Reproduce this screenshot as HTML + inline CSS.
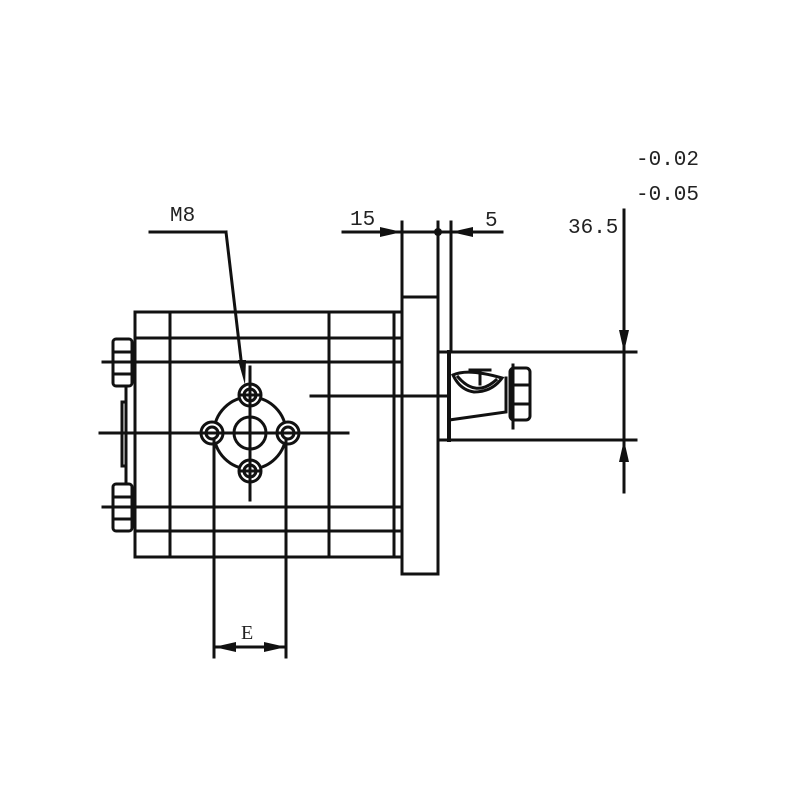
<!DOCTYPE html>
<html><head><style>body{margin:0;background:#fff}svg{display:block}</style></head><body>
<svg width="800" height="800" viewBox="0 0 800 800" xmlns="http://www.w3.org/2000/svg">
<g stroke="#111" stroke-width="3" fill="none" stroke-linecap="square">
<rect x="135" y="312" width="267" height="245"/>
<line x1="170" y1="312" x2="170" y2="557"/>
<line x1="329" y1="312" x2="329" y2="557"/>
<line x1="394" y1="312" x2="394" y2="557"/>
<line x1="135" y1="338" x2="402" y2="338"/>
<line x1="103" y1="362" x2="402" y2="362"/>
<line x1="103" y1="507" x2="402" y2="507"/>
<line x1="135" y1="531" x2="402" y2="531"/>
<line x1="311" y1="396" x2="448" y2="396"/>
<rect x="113" y="339" width="19" height="47" rx="3"/>
<line x1="113" y1="352" x2="132" y2="352"/><line x1="113" y1="374" x2="132" y2="374"/>
<rect x="113" y="484" width="19" height="47" rx="3"/>
<line x1="113" y1="497" x2="132" y2="497"/><line x1="113" y1="519" x2="132" y2="519"/>
<line x1="126" y1="386" x2="126" y2="484"/>
<rect x="122" y="402" width="4" height="64"/>
<rect x="402" y="297" width="36" height="277"/>
<line x1="402" y1="222" x2="402" y2="297"/>
<line x1="438" y1="222" x2="438" y2="297"/>
<line x1="451" y1="222" x2="451" y2="352"/>
<line x1="440" y1="352" x2="636" y2="352"/>
<line x1="440" y1="440" x2="636" y2="440"/>
<line x1="449" y1="352" x2="449" y2="440" stroke-width="4"/>
<path d="M453 375 Q468 368 502 378 Q492 392 474 392 Q460 390 453 375 Z"/>
<path d="M458 377 Q476 398 496 380"/>
<line x1="480" y1="370" x2="480" y2="384"/><line x1="470" y1="370" x2="490" y2="370"/>
<path d="M449 420 L506 412 L506 378"/>
<rect x="510" y="368" width="20" height="52" rx="4"/>
<line x1="513" y1="365" x2="513" y2="428" stroke-width="3"/>
<line x1="510" y1="385" x2="530" y2="385"/><line x1="510" y1="404" x2="530" y2="404"/>
<line x1="100" y1="433" x2="348" y2="433"/>
<line x1="250" y1="367" x2="250" y2="500"/>
<circle cx="250" cy="433" r="16"/>
<circle cx="250" cy="433" r="36"/>
<g fill="#fff">
<circle cx="250" cy="395" r="11"/><circle cx="212" cy="433" r="11"/><circle cx="288" cy="433" r="11"/><circle cx="250" cy="471" r="11"/>
</g>
<circle cx="250" cy="395" r="6"/><circle cx="212" cy="433" r="6"/><circle cx="288" cy="433" r="6"/><circle cx="250" cy="471" r="6"/>
<line x1="240" y1="395" x2="260" y2="395"/><line x1="202" y1="433" x2="222" y2="433"/><line x1="278" y1="433" x2="298" y2="433"/><line x1="240" y1="471" x2="260" y2="471"/>
<line x1="250" y1="385" x2="250" y2="405"/><line x1="250" y1="461" x2="250" y2="481"/>
<line x1="214" y1="440" x2="214" y2="657"/>
<line x1="286" y1="440" x2="286" y2="657"/>
<line x1="216" y1="647" x2="284" y2="647"/>
<line x1="150" y1="232" x2="226" y2="232"/>
<line x1="226" y1="232" x2="242" y2="368"/>
<line x1="343" y1="232" x2="502" y2="232"/>
<line x1="624" y1="210" x2="624" y2="492"/>
</g>
<g fill="#111">
<polygon points="245,385 238,360 246,360"/>
<polygon points="402,232 380,227 380,237"/>
<polygon points="451,232 473,227 473,237"/>
<circle cx="438" cy="232" r="4"/>
<polygon points="624,352 619,330 629,330"/>
<polygon points="624,440 619,462 629,462"/>
<polygon points="214,647 236,642 236,652"/>
<polygon points="286,647 264,642 264,652"/>
</g>
<g font-family="Liberation Mono, monospace" font-size="21" fill="#222">
<text x="170" y="221">M8</text>
<text x="350" y="225">15</text>
<text x="485" y="226">5</text>
<text x="568" y="233">36.5</text>
<text x="636" y="165">-0.02</text>
<text x="636" y="200">-0.05</text>
<text x="241" y="639" font-family="Liberation Serif, serif" font-size="20">E</text>
</g>
</svg>
</body></html>
